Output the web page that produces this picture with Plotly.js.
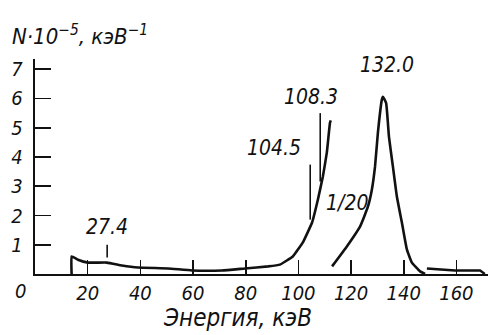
<!DOCTYPE html>
<html>
<head>
<meta charset="utf-8">
<script src="https://cdn.plot.ly/plotly-3.0.1.min.js"></script>
<style>html,body{margin:0;padding:0;background:#fff;}#chart{width:488px;height:335px;}</style>
</head>
<body>
<div id="chart"></div>
<script>
// Low-energy continuum + rise towards 108 keV (N·10^-5 per keV)
const mainEnergy = [13.9, 13.9, 16.3, 20.1, 27.3, 33.0, 39.1, 50.5, 59.6, 71.0, 79.7, 88.5, 93.0, 97.9, 101.7, 105.2, 107.4, 109.3, 110.8, 112.0, 112.3];
const mainCounts = [0.0, 0.60, 0.49, 0.39, 0.39, 0.29, 0.22, 0.19, 0.12, 0.12, 0.19, 0.26, 0.32, 0.60, 1.08, 1.76, 2.54, 3.33, 4.15, 5.17, 5.25];
// 132 keV peak, drawn at 1/20 scale
const peakEnergy = [112.8, 118.4, 123.4, 126.4, 127.9, 129.1, 130.2, 131.7, 132.1, 133.3, 134.4, 135.9, 137.4, 139.3, 141.2, 143.1, 146.2, 148.1];
const peakCounts = [0.26, 0.94, 1.62, 2.30, 2.88, 3.67, 4.83, 5.96, 6.06, 5.85, 4.69, 3.67, 2.65, 1.76, 0.84, 0.39, 0.09, 0.0];
// High-energy tail
const tailEnergy = [148.8, 159.5, 169.0, 170.8];
const tailCounts = [0.19, 0.12, 0.12, 0.0];
// Marked line energies and their marker extents
const lineEnergies = [27.4, 104.5, 108.3];
const lineMarkLow = [0.56, 1.86, 3.16];
const lineMarkHigh = [1.0, 3.74, 5.5];
const peakLabel = "132.0";
const scaleLabel = "1/20";
const xTicks = [20, 40, 60, 80, 100, 120, 140, 160];
const yTicks = [1, 2, 3, 4, 5, 6, 7];

const FONT = "DejaVu Sans Condensed, DejaVu Sans, sans-serif";
const black = "#111";

const traces = [
  {x: mainEnergy, y: mainCounts, mode: "lines", line: {color: black, width: 2.6, shape: "spline", smoothing: 0.3}, hoverinfo: "skip"},
  {x: peakEnergy, y: peakCounts, mode: "lines", line: {color: black, width: 2.6, shape: "spline", smoothing: 0.4}, hoverinfo: "skip"},
  {x: tailEnergy, y: tailCounts, mode: "lines", line: {color: black, width: 2.4}, hoverinfo: "skip"}
];
lineEnergies.forEach((e, i) => {
  traces.push({x: [e, e], y: [lineMarkLow[i], lineMarkHigh[i]], mode: "lines",
    line: {color: black, width: 1.6}, hoverinfo: "skip"});
});

const tf = {family: FONT, size: 20, color: black, style: "italic"};
const lf = Object.assign({}, tf, {size: 21});
const ann = (o) => Object.assign({showarrow: false, font: lf, xanchor: "center", yanchor: "middle"}, o);
const annotations = [
  ann({xref: "x", yref: "y", x: 27.3, y: 1.59, text: lineEnergies[0].toFixed(1)}),
  ann({xref: "x", yref: "y", x: 90.7, y: 4.32, text: lineEnergies[1].toFixed(1)}),
  ann({xref: "x", yref: "y", x: 104.8, y: 6.06, text: lineEnergies[2].toFixed(1)}),
  ann({xref: "x", yref: "y", x: 133.6, y: 7.15, text: peakLabel}),
  ann({xref: "x", yref: "y", x: 118.5, y: 2.44, text: scaleLabel}),
  ann({xref: "paper", yref: "paper", x: -0.033, y: -0.079, text: "0", font: tf}),
  ann({xref: "paper", yref: "paper", x: 0.448, y: -0.205, text: "Энергия, кэВ", font: Object.assign({}, tf, {size: 24})}),
  ann({xref: "paper", yref: "paper", x: -0.055, y: 1.11, xanchor: "left", text: "N·10<sup>−5</sup>, кэВ<sup>−1</sup>", font: Object.assign({}, tf, {size: 22})})
];

const layout = {
  width: 488, height: 335,
  margin: {l: 35, r: 0, t: 59, b: 61},
  paper_bgcolor: "#fff", plot_bgcolor: "#fff",
  showlegend: false,
  font: tf,
  xaxis: {
    range: [0, 172], tickvals: xTicks, ticktext: xTicks.map(v => "<i>" + v + "</i>"),
    ticks: "inside", ticklen: 14, tickwidth: 1.6, tickcolor: black,
    showline: true, linecolor: black, linewidth: 2.2, showgrid: false, zeroline: false,
    tickfont: tf, ticklabelstandoff: 0, fixedrange: true
  },
  yaxis: {
    range: [0, 7.35], tickvals: yTicks, ticktext: yTicks.map(v => "<i>" + v + "</i>"),
    ticks: "inside", ticklen: 16, tickwidth: 1.6, tickcolor: black,
    showline: true, linecolor: black, linewidth: 2.2, showgrid: false, zeroline: false,
    tickfont: tf, ticklabelstandoff: 6, fixedrange: true
  },
  annotations: annotations
};

Plotly.newPlot("chart", traces, layout, {staticPlot: true, displayModeBar: false});
</script>
</body>
</html>
